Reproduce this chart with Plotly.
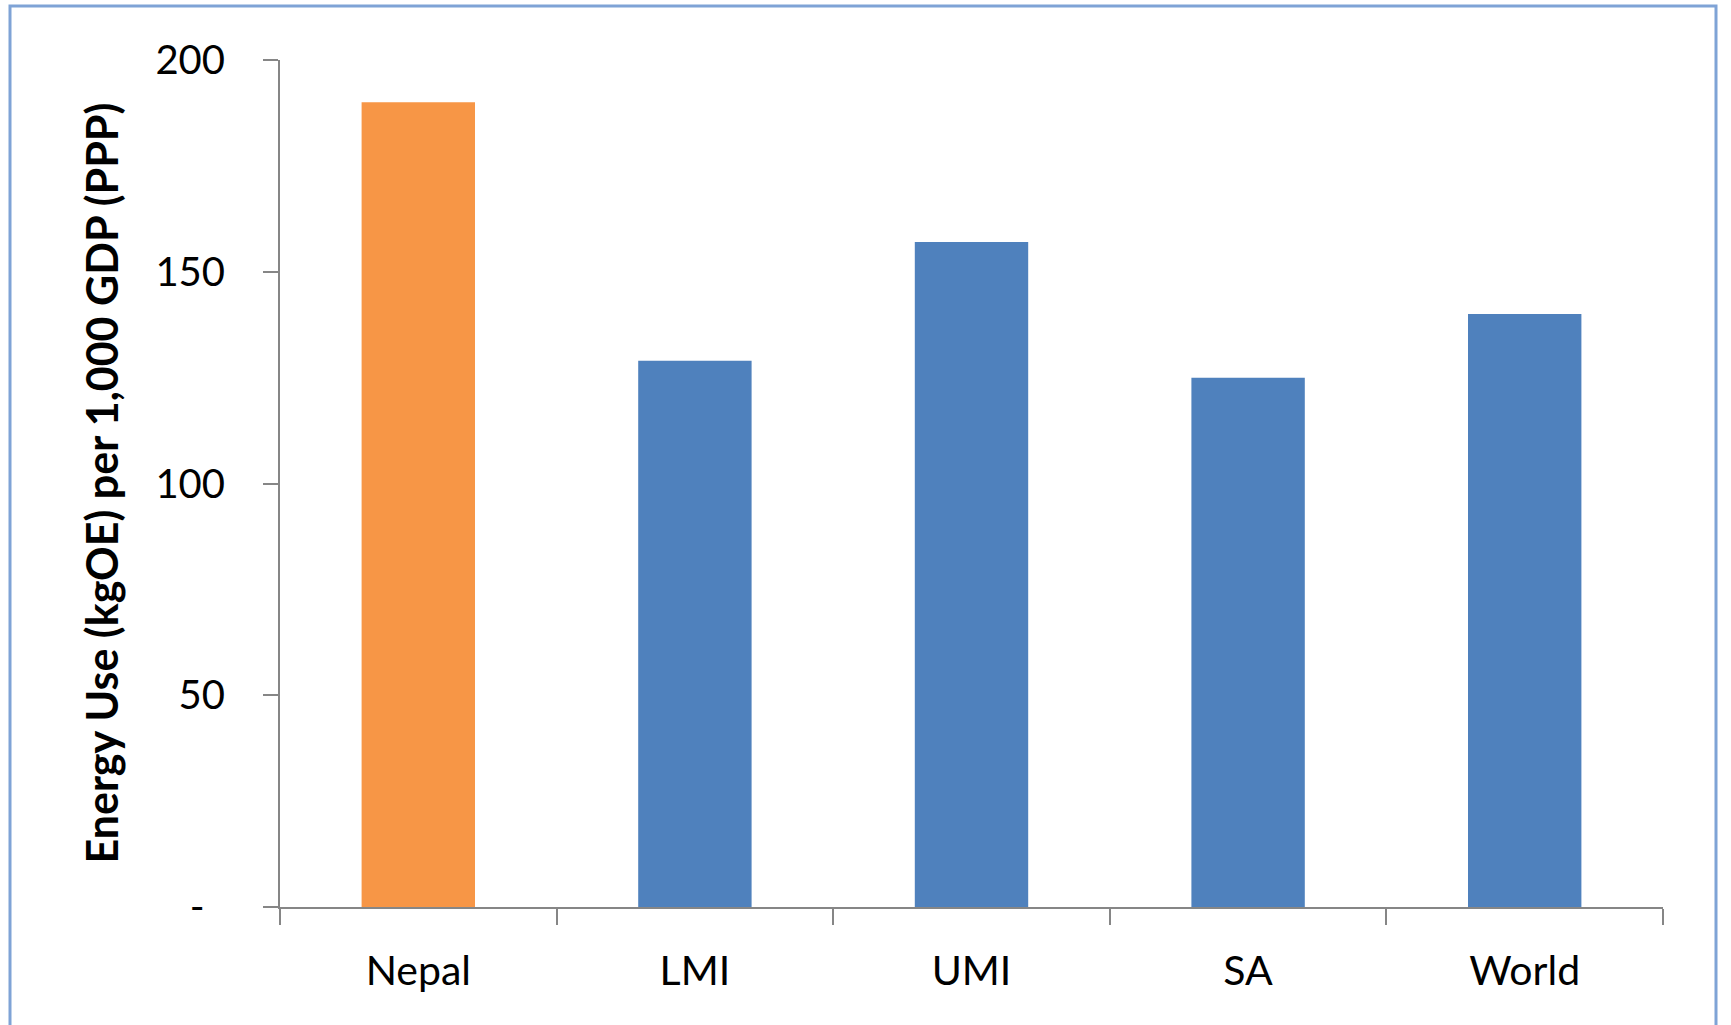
import plotly.graph_objects as go

categories = ["Nepal", "LMI", "UMI", "SA", "World"]
values = [190, 129, 157, 125, 140]
bar_colors = ["#F79646", "#4F81BD", "#4F81BD", "#4F81BD", "#4F81BD"]
ytick_vals = [0, 50, 100, 150, 200]
ytick_text = ["-\u00a0\u00a0", "50", "100", "150", "200"]
y_title = "Energy Use (kgOE) per 1,000 GDP (PPP)"

FONT = "Lato, Calibri, 'Open Sans', sans-serif"
AXIS_COLOR = "#868686"

fig = go.Figure()
fig.add_trace(go.Bar(
    x=categories, y=values,
    marker=dict(color=bar_colors, line=dict(width=0)),
    width=0.41,
    hoverinfo="x+y",
))

W, H = 1731, 1025
L, R, T, B = 280, 68, 60, 118
pw, ph = W - L - R, H - T - B

def px_to_paper_x(px):
    return (px - L) / pw

def px_to_paper_y(py):
    return (H - B - py) / ph

fig.update_layout(
    width=W, height=H,
    margin=dict(l=L, r=R, t=T, b=B, autoexpand=False),
    paper_bgcolor="white", plot_bgcolor="white",
    font=dict(family=FONT, color="#000000", size=40),
    showlegend=False,
    xaxis=dict(
        type="category",
        showline=True, linecolor=AXIS_COLOR, linewidth=2,
        ticks="outside", tickson="boundaries", ticklen=16, tickwidth=2, tickcolor=AXIS_COLOR,
        showgrid=False, zeroline=False,
        tickfont=dict(family=FONT, size=41, color="#000000"),
        ticklabelstandoff=27,
        range=[-0.5, 4.5],
    ),
    yaxis=dict(
        range=[0, 200],
        tickvals=ytick_vals, ticktext=ytick_text,
        showline=True, linecolor=AXIS_COLOR, linewidth=2,
        ticks="outside", ticklen=15, tickwidth=2, tickcolor=AXIS_COLOR,
        showgrid=False, zeroline=False,
        tickfont=dict(family=FONT, size=40, color="#000000"),
        ticklabelstandoff=30,
    ),
    annotations=[dict(
        text="<b>" + y_title + "</b>",
        xref="paper", yref="paper",
        x=px_to_paper_x(101), y=0.5,
        xanchor="center", yanchor="middle",
        textangle=-90, showarrow=False,
        font=dict(family=FONT, size=43, color="#000000"),
    )],
    shapes=[dict(
        type="rect", xref="paper", yref="paper",
        x0=px_to_paper_x(10), x1=px_to_paper_x(1716),
        y0=px_to_paper_y(1040), y1=px_to_paper_y(6),
        line=dict(color="#7FA3D6", width=3),
        fillcolor="rgba(0,0,0,0)", layer="below",
    )],
)

fig.write_html("out.html")
